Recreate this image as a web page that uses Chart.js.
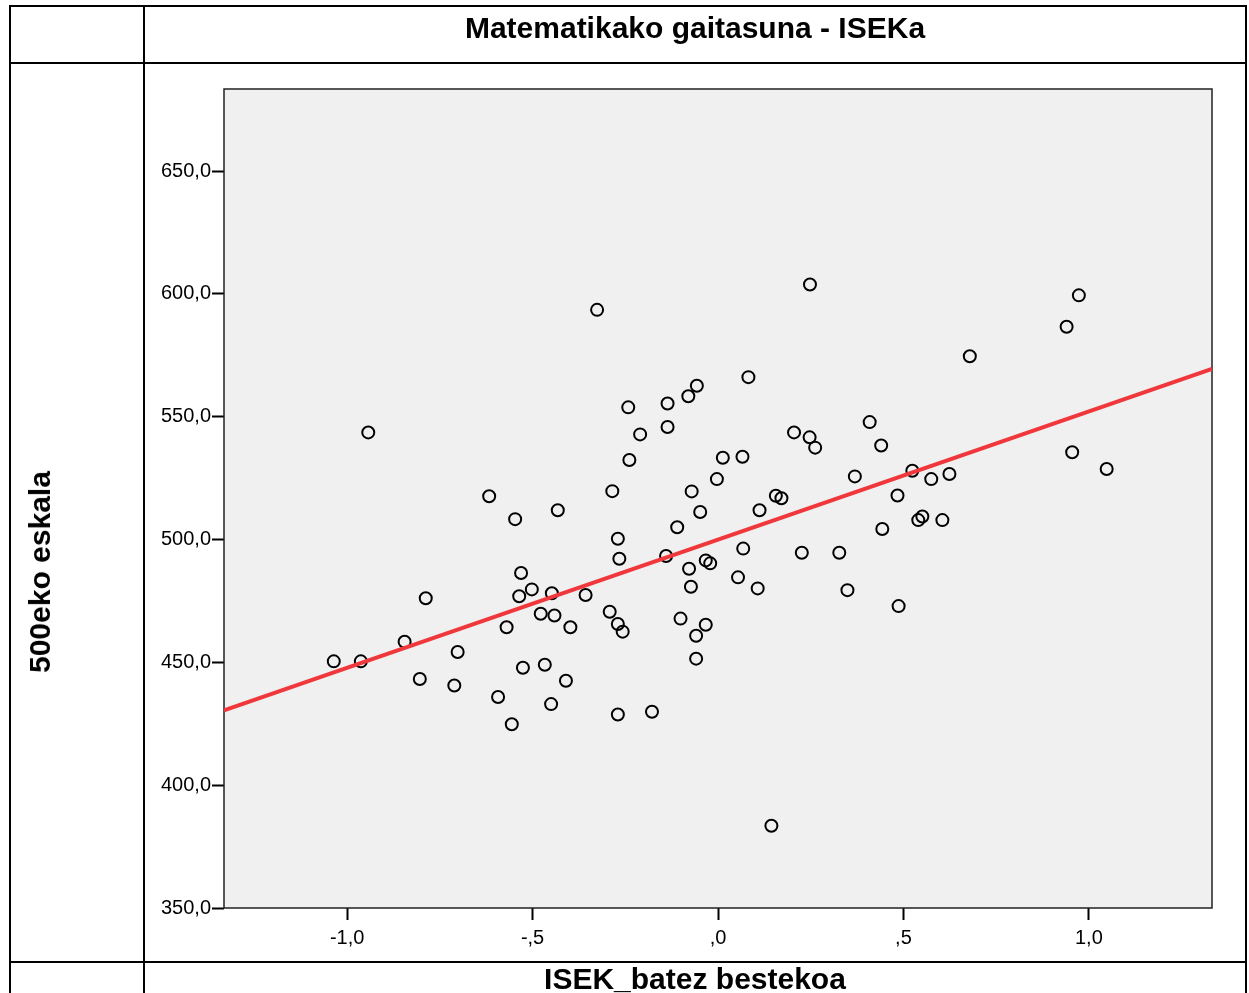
<!DOCTYPE html>
<html>
<head>
<meta charset="utf-8">
<script src="https://cdn.jsdelivr.net/npm/chart.js@4"></script>
<style>
  body { margin: 0; background: #fff; font-family: "Liberation Sans", Arial, sans-serif; }
  #wrap { position: relative; width: 1249px; height: 993px; overflow: hidden; }
  #wrap canvas { position: absolute; left: 0; top: 0; }
  .ln { position: absolute; background: #000; }
  .ttl { position: absolute; font-weight: bold; font-size: 30px; color: #000; white-space: nowrap; }
</style>
</head>
<body>
<div id="wrap">
  <canvas id="scatterChart" width="1249" height="993"></canvas>
  <!-- taulako marrak -->
  <div class="ln" style="left:9px;top:5px;width:1238px;height:2px"></div>
  <div class="ln" style="left:9px;top:62px;width:1238px;height:2px"></div>
  <div class="ln" style="left:9px;top:961px;width:1238px;height:2px"></div>
  <div class="ln" style="left:9px;top:5px;width:2px;height:990px"></div>
  <div class="ln" style="left:143px;top:5px;width:2px;height:990px"></div>
  <div class="ln" style="left:1245px;top:5px;width:2px;height:990px"></div>
  <div class="ttl" style="left:145px;width:1100px;top:11px;text-align:center">Matematikako gaitasuna - ISEKa</div>
  <div class="ttl" style="left:145px;width:1100px;top:962px;text-align:center">ISEK_batez bestekoa</div>
  <div class="ttl" style="left:40px;top:572px;transform:translate(-50%,-50%) rotate(-90deg)">500eko eskala</div>
</div>
<script>
// ISEK balioak (x) eta 500eko eskalako puntuazioak (y)
const isekValues = [
  -1.036, -0.963, -0.943, -0.845, -0.804, -0.788, -0.711, -0.702, -0.617, -0.593,
  -0.570, -0.556, -0.547, -0.536, -0.531, -0.526, -0.502, -0.478, -0.467, -0.450,
  -0.448, -0.441, -0.432, -0.410, -0.398, -0.357, -0.326, -0.292, -0.285, -0.270,
  -0.270, -0.266, -0.270, -0.257, -0.242, -0.239, -0.210, -0.178, -0.140, -0.136,
  -0.136, -0.110, -0.101, -0.080, -0.078, -0.073, -0.071, -0.057, -0.059, -0.059,
  -0.048, -0.033, -0.033, -0.021, -0.003, 0.013, 0.054, 0.066, 0.068, 0.082,
  0.107, 0.112, 0.144, 0.156, 0.171, 0.205, 0.226, 0.248, 0.247, 0.262,
  0.327, 0.349, 0.369, 0.409, 0.440, 0.443, 0.484, 0.487, 0.524, 0.540,
  0.551, 0.575, 0.605, 0.624, 0.679, 0.940, 0.955, 0.973, 1.048
];
const scoreValues = [
  450.4, 450.4, 543.6, 458.4, 443.2, 476.1, 440.6, 454.2, 517.6, 435.9,
  464.3, 424.8, 508.3, 476.9, 486.4, 447.8, 479.7, 469.8, 449.0, 433.0,
  478.1, 469.1, 511.9, 442.5, 464.3, 477.4, 593.5, 470.6, 519.7, 500.3,
  465.6, 492.2, 428.8, 462.5, 553.8, 532.4, 542.8, 429.9, 493.3, 545.8,
  555.4, 505.0, 467.8, 558.3, 488.1, 480.8, 519.6, 562.6, 451.5, 460.8,
  511.2, 491.5, 465.3, 490.3, 524.6, 533.3, 484.6, 533.7, 496.3, 566.1,
  480.1, 511.9, 383.5, 517.8, 516.8, 543.6, 494.6, 603.8, 541.6, 537.4,
  494.6, 479.4, 525.7, 547.8, 538.3, 504.3, 517.9, 472.9, 528.0, 507.9,
  509.4, 524.6, 507.9, 526.7, 574.6, 586.6, 535.5, 599.4, 528.7
];

// Doikuntza-zuzena (muturreko puntuak irudian irakurrita)
const fitX = [-1.332, 1.332];
const fitY = [430.5, 569.5];

// Ardatzak
const xTicks = [-1.0, -0.5, 0.0, 0.5, 1.0];
const xTickLabels = ['-1,0', '-,5', ',0', ',5', '1,0'];
const yTicks = [350, 400, 450, 500, 550, 600, 650];
const yTickLabels = ['350,0', '400,0', '450,0', '500,0', '550,0', '600,0', '650,0'];

const points = isekValues.map((x, i) => ({ x: x, y: scoreValues[i] }));
const fitLine = fitX.map((x, i) => ({ x: x, y: fitY[i] }));

// Grafikoaren atzeko planoa eta markoa
const plotBox = {
    id: 'plotBox',
    beforeDatasetsDraw(chart) {
        const a = chart.chartArea;
        const ctx = chart.ctx;
        ctx.save();
        ctx.fillStyle = '#f0f0f0';
        ctx.fillRect(a.left, a.top, a.right - a.left, a.bottom - a.top);
        ctx.strokeStyle = '#222';
        ctx.lineWidth = 1.5;
        ctx.strokeRect(a.left, a.top, a.right - a.left, a.bottom - a.top);
        ctx.restore();
    }
};

const ctx = document.getElementById('scatterChart').getContext('2d');
const scatterChart = new Chart(ctx, {
    type: 'scatter',
    data: {
        datasets: [{
            type: 'line',
            label: 'Doikuntza',
            data: fitLine,
            borderColor: 'rgb(240, 56, 60)',
            borderWidth: 4,
            pointRadius: 0,
            fill: false
        }, {
            label: '500eko eskala',
            data: points,
            pointStyle: 'circle',
            pointRadius: 6,
            pointBorderWidth: 2,
            backgroundColor: 'rgba(0,0,0,0)',
            borderColor: '#000'
        }]
    },
    options: {
        responsive: false,
        animation: false,
        layout: {
            padding: { left: 144, top: 89, right: 37, bottom: 31 }
        },
        plugins: {
            legend: { display: false },
            title: { display: false },
            tooltip: { enabled: false }
        },
        scales: {
            x: {
                type: 'linear',
                min: -1.332,
                max: 1.332,
                afterBuildTicks: s => { s.ticks = xTicks.map(v => ({ value: v })); },
                afterFit: s => { s.height = 54; },
                grid: {
                    drawOnChartArea: false,
                    tickLength: 12,
                    tickWidth: 2,
                    tickColor: '#000'
                },
                border: { display: false },
                ticks: {
                    padding: 6,
                    color: '#000',
                    font: { family: 'Liberation Sans', size: 20 },
                    maxRotation: 0,
                    callback: (v, i) => xTickLabels[i]
                }
            },
            y: {
                type: 'linear',
                min: 350,
                max: 683.4,
                afterBuildTicks: s => { s.ticks = yTicks.map(v => ({ value: v })); },
                afterFit: s => { s.width = 80; },
                grid: {
                    drawOnChartArea: false,
                    tickLength: 12,
                    tickWidth: 2,
                    tickColor: '#000'
                },
                border: { display: false },
                ticks: {
                    padding: 1,
                    color: '#000',
                    font: { family: 'Liberation Sans', size: 20 },
                    callback: (v, i) => yTickLabels[i]
                }
            }
        }
    },
    plugins: [plotBox]
});
</script>
</body>
</html>
